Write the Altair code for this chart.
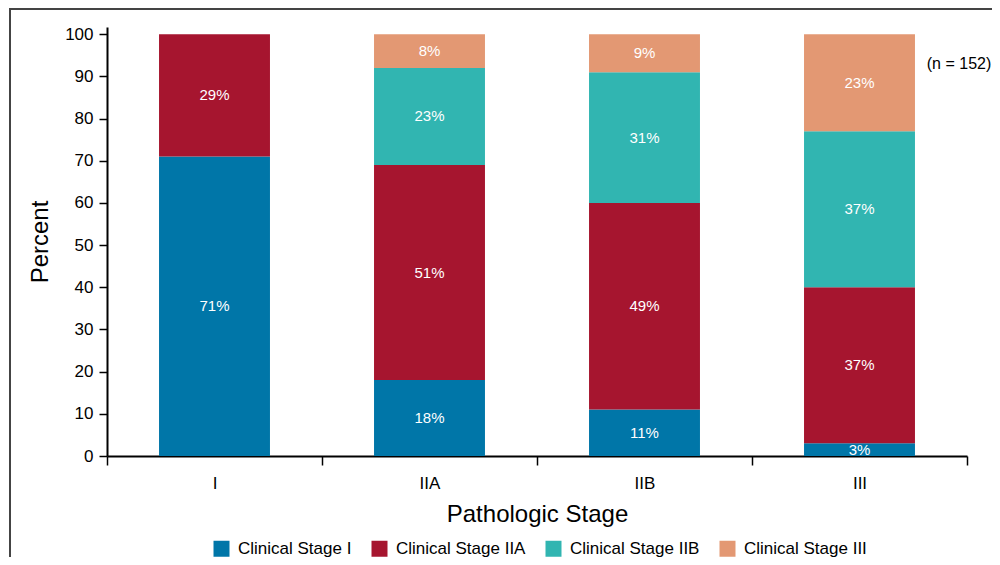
import altair as alt
import pandas as pd

path_stages = ["I", "IIA", "IIB", "III"]
clin_stages = ["Clinical Stage I", "Clinical Stage IIA", "Clinical Stage IIB", "Clinical Stage III"]
pct_clin_I = [71, 18, 11, 3]
pct_clin_IIA = [29, 51, 49, 37]
pct_clin_IIB = [0, 23, 31, 37]
pct_clin_III = [0, 8, 9, 23]
colors = ["#0076A8", "#A6152F", "#31B5B1", "#E39873"]
note = "(n = 152)"

rows = []
for j, series in enumerate([pct_clin_I, pct_clin_IIA, pct_clin_IIB, pct_clin_III]):
    for i, p in enumerate(path_stages):
        if series[i] > 0:
            rows.append({"path": p, "clin": clin_stages[j], "pct": series[i],
                         "ord": j, "label": f"{series[i]}%"})
df = pd.DataFrame(rows)

FONT = "Liberation Sans"

x_enc = alt.X("path:N", sort=path_stages,
              scale=alt.Scale(paddingInner=0, paddingOuter=0),
              axis=alt.Axis(title="Pathologic Stage", titleFontSize=24, titleFontWeight="normal",
                            titleFont=FONT, titleColor="black", titlePadding=11,
                            labelFontSize=17, labelFont=FONT, labelColor="black", labelAngle=0,
                            labelPadding=10, tickBand="extent", tickSize=9, tickColor="black",
                            tickWidth=1.5, domainColor="black", domainWidth=2))

y_axis = alt.Axis(title="Percent", titleFontSize=24, titleFontWeight="normal", titleFont=FONT,
                  titleColor="black", titlePadding=12, values=list(range(0, 101, 10)),
                  labelFontSize=17, labelFont=FONT, labelColor="black", labelPadding=6,
                  tickSize=8, tickColor="black", tickWidth=1.5, domainColor="black",
                  domainWidth=2, grid=False)

bars = alt.Chart(df).mark_bar(width={"band": 0.516}).encode(
    x=x_enc,
    y=alt.Y("pct:Q", stack="zero", scale=alt.Scale(domain=[0, 101.7], nice=False), axis=y_axis),
    color=alt.Color("clin:N", scale=alt.Scale(domain=clin_stages, range=colors),
                    legend=alt.Legend(title=None, orient="none", legendX=106, legendY=513,
                                      direction="horizontal", symbolType="square",
                                      symbolSize=256, symbolStrokeWidth=0, labelFontSize=17,
                                      labelFont=FONT, labelColor="black", labelOffset=8,
                                      columnPadding=19)),
    order=alt.Order("ord:Q", sort="ascending"),
)

labels = alt.Chart(df).transform_stack(
    stack="pct", as_=["y0", "y1"], groupby=["path"], sort=[alt.SortField("ord", order="ascending")]
).transform_calculate(mid="(datum.y0 + datum.y1) / 2").mark_text(
    color="white", fontSize=15, font=FONT, baseline="middle"
).encode(
    x=alt.X("path:N", sort=path_stages),
    y=alt.Y("mid:Q", title="Percent"),
    text="label:N",
)

note_df = pd.DataFrame({"t": [note]})
note_txt = alt.Chart(note_df).mark_text(fontSize=16, font=FONT, color="black",
                                        align="center", baseline="middle").encode(
    x=alt.value(852), y=alt.value(37), text="t:N")

frame = alt.Chart(pd.DataFrame({"a": [0]})).mark_rect(
    filled=False, stroke="#444444", strokeWidth=2).encode(
    x=alt.value(-97), x2=alt.value(1000), y=alt.value(-18), y2=alt.value(700))

chart = alt.layer(frame, bars, labels, note_txt).properties(
    width=860, height=429,
    autosize=alt.AutoSizeParams(type="none"),
    padding={"left": 99, "top": 19, "right": 25, "bottom": 101},
).configure_view(stroke=None)

chart.save("out.html", embed_options={"renderer": "svg", "actions": False})
